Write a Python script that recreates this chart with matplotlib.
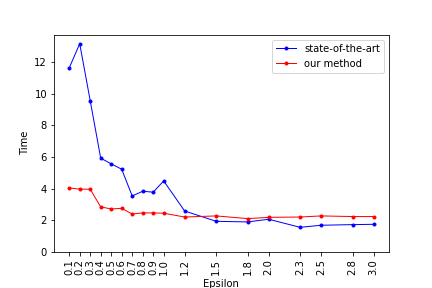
import numpy as np
import matplotlib
matplotlib.use('Agg')
import matplotlib.pyplot as plt

epsilon = [0.1, 0.2, 0.3, 0.4, 0.5, 0.6, 0.7, 0.8, 0.9, 1.0,
           1.2, 1.5, 1.8, 2.0, 2.3, 2.5, 2.8, 3.0]
state_of_the_art = [11.63, 13.16, 9.56, 5.93, 5.57, 5.23, 3.54, 3.84, 3.78, 4.49,
                    2.59, 1.94, 1.90, 2.07, 1.56, 1.69, 1.73, 1.75]
our_method = [4.05, 3.97, 3.97, 2.85, 2.72, 2.76, 2.40, 2.47, 2.47, 2.45,
              2.21, 2.28, 2.11, 2.19, 2.21, 2.28, 2.24, 2.24]

fig = plt.figure(figsize=(6, 4), dpi=72)
plt.plot(epsilon, state_of_the_art, 'b.-', linewidth=1, label='state-of-the-art')
plt.plot(epsilon, our_method, 'r.-', linewidth=1, label='our method')
plt.xticks(epsilon, [str(e) for e in epsilon], rotation=90)
plt.ylim(bottom=0)
plt.xlabel('Epsilon')
plt.ylabel('Time')
plt.legend(loc='upper right')
plt.subplots_adjust(bottom=0.125)
plt.savefig('out.png', dpi=72)
